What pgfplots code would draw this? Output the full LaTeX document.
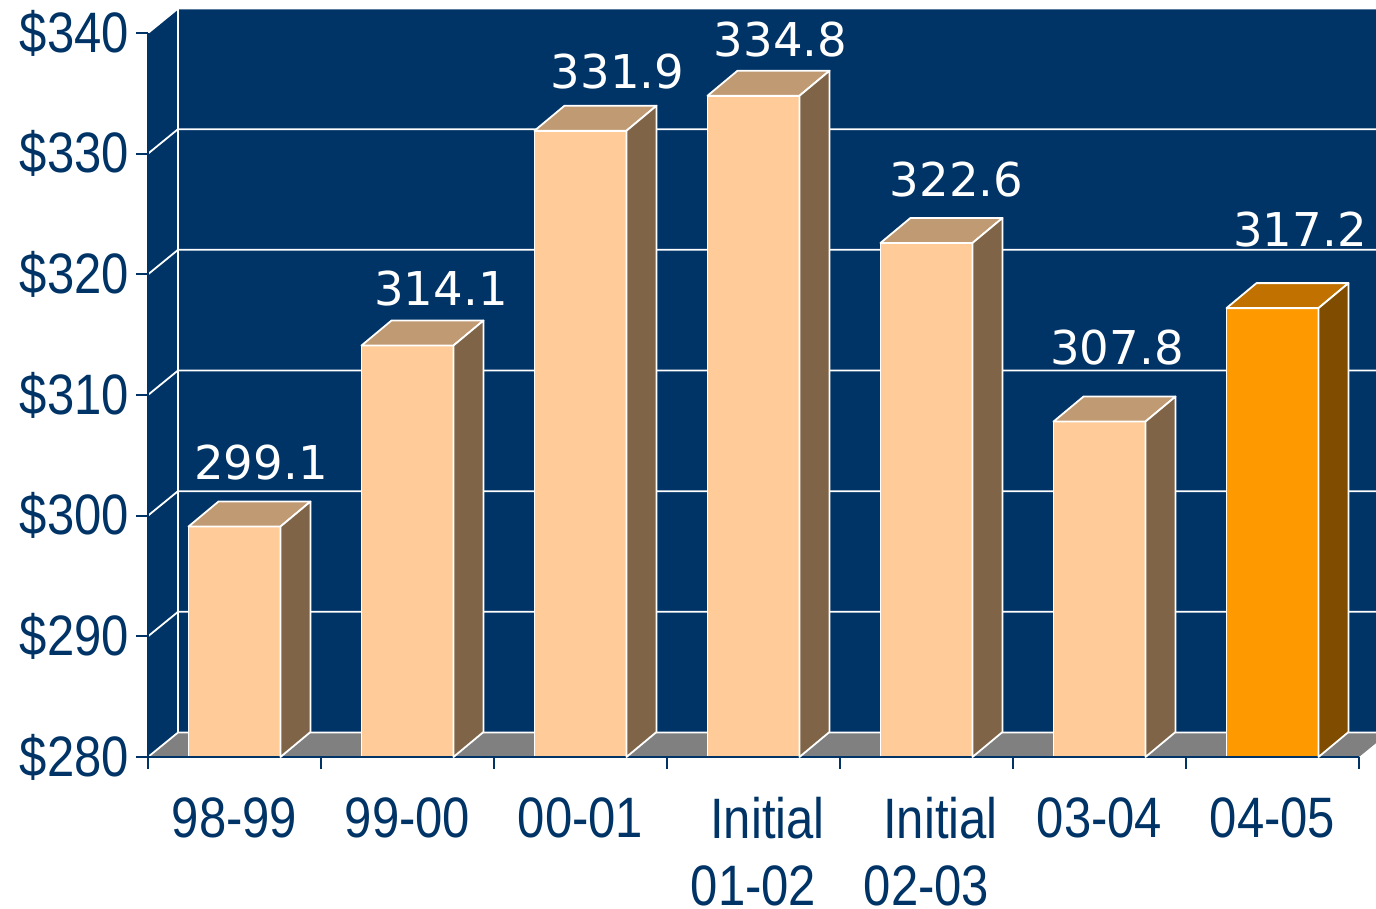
\documentclass[border=0pt]{standalone}
\usepackage{pgfplots}
\pgfplotsset{compat=1.18}
\usepackage{pgfplotstable}
\usepackage{fontspec}
\setmainfont{Liberation Sans}
\newfontfamily\axisfont[FakeStretch=0.86]{Liberation Sans}
\newfontfamily\valfont{DejaVu Sans}

\definecolor{navy}{RGB}{0,51,102}
\definecolor{peach}{RGB}{255,204,153}
\definecolor{peachtop}{RGB}{192,154,115}
\definecolor{peachside}{RGB}{127,100,72}
\definecolor{orng}{RGB}{255,153,0}
\definecolor{orngtop}{RGB}{192,113,0}
\definecolor{orngside}{RGB}{128,77,0}
\definecolor{floorgray}{RGB}{128,128,128}

% x = category index, v = value, lx/ly = label offset (pt) from bar top
\pgfplotstableread{
x v lx ly
0 299.1 13.25 31.75
1 314.1 16.75 28.25
2 331.9 18.5 29.35
3 334.8 13.5 27.85
4 322.6 15.0 31.5
5 307.8 8.75 37.25
}\peachdata
\pgfplotstableread{
x v lx ly
6 317.2 13.75 39.5
}\orngdata

\pgfdeclareplotmark{blank}{}

\pgfplotsset{
  bar3d/.style n args={2}{
    only marks, mark=blank, scatter,
    visualization depends on={\thisrow{v}\as\barv},
    scatter/@pre marker code/.code={%
      \pgfmathsetmacro\barh{(\barv-280)*6.0333}%
      \fill[#1, draw=white, line width=0.9pt, line join=round]
        (-23pt,0pt) -- (23pt,0pt) -- (38pt,12.5pt) -- (-8pt,12.5pt) -- cycle;
      \fill[#2, draw=white, line width=0.9pt, line join=round]
        (23pt,0pt) -- (38pt,12.5pt) -- (38pt,12.5pt-\barh pt) -- (23pt,-\barh pt) -- cycle;
    },
    scatter/@post marker code/.code={},
  },
  vallabels/.style={
    only marks, mark=blank,
    visualization depends on={\thisrow{lx}\as\labx},
    visualization depends on={\thisrow{ly}\as\laby},
    nodes near coords={\pgfmathprintnumber[fixed,precision=1,fixed zerofill]{\pgfplotspointmeta}},
    point meta=\thisrow{v},
    every node near coord/.style={anchor=center, xshift=\labx pt, yshift=\laby pt,
      font=\valfont\fontsize{23.3}{28}\selectfont, text=white, inner sep=0pt},
  },
}

\begin{document}
\begin{tikzpicture}
\begin{axis}[
  x=86.5pt, y=6.0333pt,
  xmin=-0.5, xmax=6.5, ymin=280, ymax=340,
  axis x line*=bottom, axis y line*=left,
  axis on top,
  clip=false,
  axis line style={navy, line width=1pt},
  tick align=outside,
  major tick length=6pt,
  tick style={navy, line width=1pt},
  ytick={280,290,...,340},
  yticklabel={\$\pgfmathprintnumber{\tick}},
  xtick={-0.5,0.5,...,6.5},
  x tick label as interval,
  xticklabels={98-99,99-00,00-01,\hspace*{14pt}Initial\\01-02,\hspace*{14pt}Initial\\02-03,03-04,04-05},
  /pgf/number format/assume math mode=true,
  ticklabel style={font=\axisfont\fontsize{28.5}{33.5}\selectfont, text=navy},
  xticklabel style={align=center, inner sep=0pt, text depth=0pt, yshift=-14pt},
]
% back wall, side wall, floor
\fill[navy] ([shift={(15pt,12.25pt)}]axis cs:-0.5,280) rectangle ([shift={(15pt,12.25pt)}]axis cs:6.5,340);
\fill[navy] (axis cs:-0.5,280) -- ([shift={(15pt,12.25pt)}]axis cs:-0.5,280) -- ([shift={(15pt,12.25pt)}]axis cs:-0.5,340) -- (axis cs:-0.5,340) -- cycle;
\fill[floorgray] (axis cs:-0.5,280) -- (axis cs:6.5,280) -- ([shift={(15pt,12.25pt)}]axis cs:6.5,280) -- ([shift={(15pt,12.25pt)}]axis cs:-0.5,280) -- cycle;
\pgfplotsinvokeforeach{280,290,300,310,320,330,340}{
  \draw[white, line width=0.9pt] (axis cs:-0.5,#1) -- ([shift={(15pt,12.25pt)}]axis cs:-0.5,#1) -- ([shift={(15pt,12.25pt)}]axis cs:6.5,#1);
}
\draw[white, line width=0.9pt] ([shift={(15pt,12.25pt)}]axis cs:-0.5,280) -- ([shift={(15pt,12.25pt)}]axis cs:-0.5,340);
\coordinate (O) at (axis cs:-0.5,280);

% front faces
\addplot[ybar, bar width=46pt, bar shift=0pt, fill=peach, draw=white, line width=0.9pt] table[x=x, y=v] {\peachdata};
\addplot[ybar, bar width=46pt, bar shift=0pt, fill=orng, draw=white, line width=0.9pt] table[x=x, y=v] {\orngdata};
% top and side faces
\addplot[bar3d={peachtop}{peachside}] table[x=x, y=v] {\peachdata};
\addplot[bar3d={orngtop}{orngside}] table[x=x, y=v] {\orngdata};
% value labels
\addplot[vallabels] table[x=x, y=v] {\peachdata};
\addplot[vallabels] table[x=x, y=v] {\orngdata};
\end{axis}
\pgfresetboundingbox
\path[use as bounding box] ([shift={(-74pt,-76pt)}]O) rectangle ([shift={(614pt,378.5pt)}]O);
\end{tikzpicture}
\end{document}
